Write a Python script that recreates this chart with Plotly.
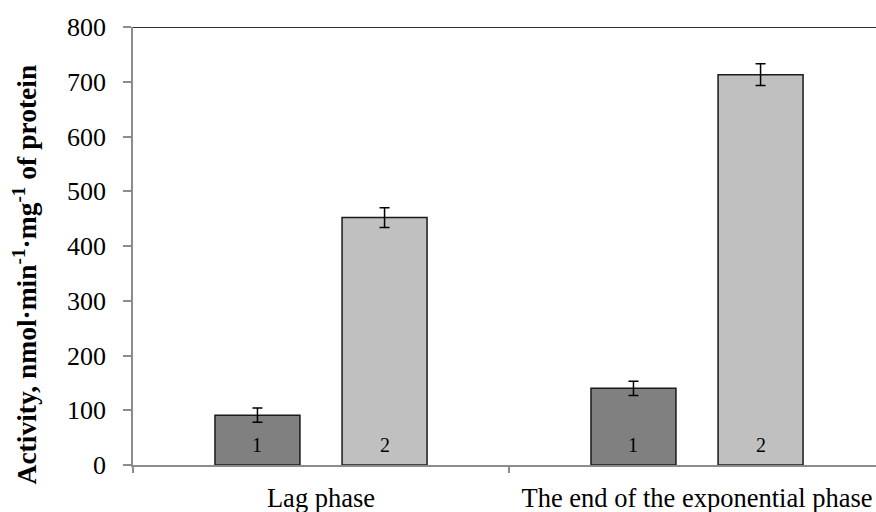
import plotly.graph_objects as go

categories = ["Lag phase", "The end of the exponential phase"]
series1_values = [91, 140]
series1_errors = [13, 13]
series2_values = [452, 713]
series2_errors = [18, 20]
bar_labels = ["1", "2"]
y_ticks = [0, 100, 200, 300, 400, 500, 600, 700, 800]

FONT = "Liberation Serif, Times New Roman, serif"
BW = 0.226
OFF = 0.169

cat_pos = list(range(len(categories)))
boundaries = [p - 0.5 for p in cat_pos] + [cat_pos[-1] + 0.5]

fig = go.Figure()
fig.add_trace(go.Bar(
    x=cat_pos, y=series1_values, width=BW, offset=-OFF - BW / 2,
    marker=dict(color="#808080", line=dict(color="#1a1a1a", width=1.5)),
    error_y=dict(type="data", array=series1_errors, color="black", thickness=1.5, width=5),
    showlegend=False, hoverinfo="y",
))
fig.add_trace(go.Bar(
    x=cat_pos, y=series2_values, width=BW, offset=OFF - BW / 2,
    marker=dict(color="#c0c0c0", line=dict(color="#1a1a1a", width=1.5)),
    error_y=dict(type="data", array=series2_errors, color="black", thickness=1.5, width=5),
    showlegend=False, hoverinfo="y",
))

annotations = []
for i in cat_pos:
    for j, off in enumerate([-OFF, OFF]):
        annotations.append(dict(
            x=i + off, y=0, xref="x", yref="y", text=bar_labels[j], showarrow=False,
            yshift=20, font=dict(family=FONT, size=20, color="black"),
        ))
annotations.append(dict(
    x=0, xref="paper", xanchor="center", xshift=-108,
    y=0.435, yref="paper", yanchor="middle",
    text="Activity, nmol·min<sup>-1</sup>·mg<sup>-1</sup> of protein",
    textangle=-90, showarrow=False,
    font=dict(family=FONT, size=27.5, color="black", weight="bold"),
))

fig.update_layout(
    width=876, height=512,
    margin=dict(l=133, r=0, t=27, b=47, autoexpand=False),
    paper_bgcolor="white", plot_bgcolor="white",
    barmode="overlay",
    font=dict(family=FONT, color="black"),
    annotations=annotations,
    shapes=[
        dict(type="rect", xref="paper", yref="paper", x0=0.975, x1=1.0, y0=0.005, y1=0.995,
             fillcolor="white", line=dict(width=0), layer="above"),
        dict(type="line", xref="paper", yref="y", x0=0, x1=1, y0=800, y1=800,
             line=dict(color="#333333", width=2), layer="above"),
    ],
    xaxis=dict(
        type="linear", range=[-0.5, 1.476], automargin=False,
        tickmode="array", tickvals=cat_pos, ticktext=categories, ticks="",
        minor=dict(tickmode="array", tickvals=boundaries, ticks="outside", ticklen=6,
                   tickcolor="#8c8c8c", tickwidth=1.5, showgrid=False),
        showline=True, linecolor="#8c8c8c", linewidth=1.5, mirror=False,
        tickfont=dict(family=FONT, size=26.5, color="black"),
        showgrid=False, zeroline=False, ticklabelstandoff=8, showspikes=False,
    ),
    yaxis=dict(
        range=[0, 800], tickvals=y_ticks, automargin=False,
        showline=True, linecolor="#8c8c8c", linewidth=1.5, mirror=False,
        ticks="outside", ticklen=8, tickcolor="#8c8c8c", tickwidth=1.5,
        tickfont=dict(family=FONT, size=26, color="black"),
        showgrid=False, zeroline=False, ticklabelstandoff=12, showspikes=False,
    ),
)

fig.write_html(
    "out.html",
    config={"displayModeBar": False},
    post_script="document.body.style.margin='0';document.body.style.overflow='hidden';",
)
